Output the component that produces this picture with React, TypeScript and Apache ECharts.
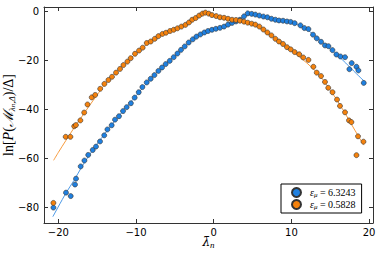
import React, { useEffect, useRef } from "react";
import * as echarts from "echarts";

const blueX = [-20.63, -19.01, -18.4, -17.85, -17.72, -17.12, -16.64, -16.15, -15.57, -15.15, -14.63, -14.09, -13.68, -13.13, -12.7, -12.19, -11.67, -11.2, -10.66, -10.17, -9.65, -9.18, -8.62, -8.11, -7.63, -7.12, -6.65, -6.18, -5.66, -5.15, -4.67, -4.21, -3.73, -3.22, -2.7, -2.23, -1.71, -1.2, -0.73, -0.22, 0.28, 0.81, 1.33, 1.84, 2.36, 2.87, 3.38, 3.9, 4.38, 4.89, 5.37, 5.88, 6.4, 6.91, 7.43, 7.94, 8.4, 8.92, 9.43, 9.91, 10.42, 11.16, 11.67, 12.19, 12.78, 13.26, 13.81, 14.32, 14.76, 15.28, 15.79, 16.31, 16.9, 17.46, 17.76, 18.37, 18.62, 19.31];
const blueY = [-80.0, -73.9, -75.3, -70.6, -68.2, -63.2, -60.8, -58.5, -56.5, -55.1, -53.0, -50.5, -48.1, -46.4, -44.1, -42.7, -40.6, -39.0, -37.4, -35.1, -32.9, -30.8, -28.9, -27.4, -25.9, -24.2, -22.8, -21.4, -20.1, -18.6, -17.1, -15.6, -14.2, -12.6, -11.3, -10.2, -9.3, -8.5, -7.9, -7.4, -7.0, -6.6, -6.1, -5.3, -4.6, -4.0, -3.3, -1.9, -0.7, -0.9, -1.2, -1.6, -2.0, -2.3, -2.9, -3.3, -3.6, -3.7, -4.0, -4.2, -4.7, -5.6, -6.7, -7.1, -9.4, -10.9, -12.3, -13.8, -14.1, -15.7, -17.5, -18.3, -18.6, -23.5, -21.0, -22.5, -24.0, -29.1];

const orangeX = [-20.63, -19.05, -18.44, -17.95, -17.73, -17.16, -16.67, -16.24, -15.7, -15.25, -14.61, -14.07, -13.55, -13.09, -12.57, -12.06, -11.62, -11.11, -10.68, -10.13, -9.61, -9.14, -8.62, -8.11, -7.59, -7.12, -6.6, -6.14, -5.62, -5.15, -4.67, -4.16, -3.64, -3.18, -2.77, -2.32, -1.87, -1.45, -1.07, -0.64, -0.22, 0.32, 0.81, 1.33, 1.84, 2.36, 2.87, 3.38, 3.9, 4.38, 4.89, 5.37, 5.88, 6.4, 6.91, 7.43, 7.94, 8.4, 8.92, 9.43, 9.91, 10.42, 11.0, 11.52, 12.19, 12.83, 13.26, 13.81, 14.32, 14.74, 15.29, 15.87, 16.25, 16.9, 17.41, 17.72, 18.57, 19.27, 18.37];
const orangeY = [-78.1, -51.1, -51.1, -46.8, -46.3, -44.4, -41.2, -37.9, -35.0, -34.0, -31.5, -29.5, -27.9, -26.6, -24.9, -23.4, -21.8, -20.4, -19.0, -17.2, -15.9, -14.7, -12.8, -12.2, -11.1, -10.0, -9.1, -8.6, -7.9, -7.4, -6.8, -6.1, -5.4, -4.4, -3.3, -2.6, -1.6, -0.8, -0.4, -0.8, -1.4, -1.8, -2.3, -2.5, -2.9, -3.3, -3.4, -3.7, -4.1, -4.5, -4.9, -5.3, -6.1, -7.3, -8.5, -9.7, -11.1, -12.2, -13.2, -14.5, -15.4, -16.5, -17.4, -18.7, -19.7, -22.5, -24.9, -26.3, -28.7, -31.1, -32.9, -35.9, -38.5, -41.1, -44.4, -45.1, -50.9, -53.1, -58.6];

const blueFitX = [-20.7, -19, -18, -17, -16, -15, -14, -13, -12, -11, -10, -9, -8, -7, -6, -5, -4, -3, -2, -1, 0, 1, 2, 3, 4, 4.5, 5, 6, 7, 8, 9, 10, 11, 12, 13, 14, 15, 16, 17, 18, 19.4];
const blueFitY = [-83.7, -74, -69, -63.5, -58.5, -54, -49.8, -45.7, -41.8, -38, -34.4, -30.5, -27, -23.8, -20.8, -18, -15, -12.2, -9.8, -8.1, -7.1, -6.2, -5, -3.5, -2, -1.4, -1.2, -1.6, -2.4, -3.2, -3.9, -4.5, -5.6, -7.3, -9.8, -12.6, -15.3, -18, -21, -24.2, -28.5];

const orangeFitX = [-20.6, -20, -19, -18, -17, -16, -15, -14, -13, -12, -11, -10, -9, -8, -7, -6, -5, -4, -3, -2, -1.3, -1, 0, 1, 2, 3, 4, 5, 6, 7, 8, 9, 10, 11, 12, 13, 14, 15, 16, 17, 18, 19.3];
const orangeFitY = [-60.7, -57.5, -52.5, -47.6, -43, -38.4, -34, -29.6, -26.2, -23, -20, -17, -14.3, -12, -10, -8.3, -7, -5.8, -4, -2, -0.9, -0.9, -1.6, -2.4, -3.1, -3.6, -4.2, -5.1, -7, -8.9, -11.2, -13.6, -16, -18.4, -21, -24, -27.6, -32, -36.8, -42, -47.5, -54.5];

const xTicks = [-20, -10, 0, 10, 20];
const yTicks = [-80, -60, -40, -20, 0];
const epsValues = ["6.3243", "0.5828"];

const BLUE = "#1f80e0";
const ORANGE = "#f5820d";
const FRAME = "#333333";

const zip = (xs: number[], ys: number[]) => xs.map((x, i) => [x, ys[i]]);
const fmt = (v: number) => (v < 0 ? "\u2212" + Math.abs(v) : String(v));

const seriesNames = epsValues.map((v) => "\u03b5\u03bc = " + v);

export default function App() {
  const ref = useRef<HTMLDivElement>(null);
  useEffect(() => {
    if (!ref.current) return;
    const chart = echarts.init(ref.current, undefined, { renderer: "svg" });
    const serif = "Liberation Serif";
    const tickLine = { color: FRAME, width: 1 };
    const baseX = {
      type: "value" as const,
      min: -21.84,
      max: 20.5,
      splitLine: { show: false },
      axisLine: { show: true, onZero: false, lineStyle: { color: FRAME, width: 1 } },
    };
    const baseY = {
      type: "value" as const,
      min: -86.3,
      max: 1.9,
      splitLine: { show: false },
      axisLine: { show: true, onZero: false, lineStyle: { color: FRAME, width: 1 } },
    };
    chart.setOption({
      animation: false,
      backgroundColor: "#ffffff",
      grid: { left: 44, right: 8, top: 7, bottom: 31, containLabel: false, outerBoundsMode: "none" },
      xAxis: [
        {
          ...baseX,
          position: "bottom",
          axisTick: { show: true, inside: true, length: 4, customValues: xTicks, lineStyle: tickLine },
          axisLabel: {
            customValues: xTicks,
            formatter: fmt,
            margin: 4,
            fontSize: 10,
            fontFamily: "DejaVu Sans",
            color: "#000",
          },
          name: "{l|\u03bb\u0304}{s|n}",
          nameLocation: "middle",
          nameGap: 12,
          nameMoveOverlap: false,
          nameTextStyle: {
            rich: {
              l: { fontFamily: "DejaVu Serif", fontStyle: "italic", fontSize: 12, color: "#000", lineHeight: 14 },
              s: { fontFamily: serif, fontStyle: "italic", fontSize: 9, color: "#000", verticalAlign: "bottom", lineHeight: 9 },
            },
          },
        },
        {
          ...baseX,
          position: "top",
          axisTick: { show: true, inside: true, length: 4, customValues: xTicks, lineStyle: tickLine },
          axisLabel: { show: false },
        },
      ],
      yAxis: [
        {
          ...baseY,
          position: "left",
          axisTick: { show: true, inside: true, length: 4, customValues: yTicks, lineStyle: tickLine },
          axisLabel: {
            customValues: yTicks,
            formatter: fmt,
            margin: 5,
            fontSize: 10,
            fontFamily: "DejaVu Sans",
            color: "#000",
          },
          name: "{r|ln[}{i|P}{r|(}{i|\u2133}{s|\u03bb}{t|n}{s|,\u0394}{r|)/\u0394]}",
          nameLocation: "middle",
          nameRotate: 90,
          nameGap: 28,
          nameMoveOverlap: false,
          nameTextStyle: {
            rich: {
              r: { fontFamily: serif, fontSize: 14, color: "#000", lineHeight: 16 },
              i: { fontFamily: serif, fontStyle: "italic", fontSize: 14, color: "#000", lineHeight: 16 },
              s: { fontFamily: serif, fontStyle: "italic", fontSize: 9, color: "#000", verticalAlign: "bottom", lineHeight: 9 },
              t: { fontFamily: serif, fontStyle: "italic", fontSize: 7, color: "#000", verticalAlign: "bottom", lineHeight: 6 },
            },
          },
        },
        {
          ...baseY,
          position: "right",
          axisTick: { show: true, inside: true, length: 4, customValues: yTicks, lineStyle: tickLine },
          axisLabel: { show: false },
        },
      ],
      legend: {
        data: seriesNames,
        orient: "vertical",
        left: 281,
        top: 184,
        backgroundColor: "#ffffff",
        borderColor: "#000",
        borderWidth: 1,
        borderRadius: 0,
        padding: [3, 6, 3, 10],
        itemGap: 1,
        icon: "circle",
        itemWidth: 9,
        itemHeight: 9,
        formatter: (name: string) => {
          const v = name.split("= ")[1];
          return "{e|\u03b5}{m|\u03bc}{n| = " + v + "}";
        },
        textStyle: {
          padding: [0, 0, 0, 4],
          rich: {
            e: { fontFamily: serif, fontStyle: "italic", fontSize: 10, color: "#000", lineHeight: 11 },
            m: { fontFamily: serif, fontStyle: "italic", fontSize: 7, color: "#000", verticalAlign: "bottom", lineHeight: 7 },
            n: { fontFamily: serif, fontSize: 10, color: "#000", lineHeight: 11 },
          },
        },
      },
      series: [
        {
          type: "line",
          data: zip(blueFitX, blueFitY),
          showSymbol: false,
          symbol: "none",
          smooth: 0.3,
          silent: true,
          lineStyle: { color: BLUE, width: 1, opacity: 0.8 },
          z: 1,
        },
        {
          type: "line",
          data: zip(orangeFitX, orangeFitY),
          showSymbol: false,
          symbol: "none",
          smooth: 0.3,
          silent: true,
          lineStyle: { color: ORANGE, width: 1, opacity: 0.8 },
          z: 1,
        },
        {
          name: seriesNames[0],
          type: "scatter",
          data: zip(blueX, blueY),
          symbol: "circle",
          symbolSize: 5,
          itemStyle: { color: BLUE, borderColor: "#333", borderWidth: 0.6, opacity: 1 },
          z: 3,
        },
        {
          name: seriesNames[1],
          type: "scatter",
          data: zip(orangeX, orangeY),
          symbol: "circle",
          symbolSize: 5,
          itemStyle: { color: ORANGE, borderColor: "#333", borderWidth: 0.6, opacity: 1 },
          z: 4,
        },
      ],
    });
    return () => chart.dispose();
  }, []);
  return <div ref={ref} style={{ width: 381, height: 254, position: "absolute", left: 0, top: 0 }} />;
}
